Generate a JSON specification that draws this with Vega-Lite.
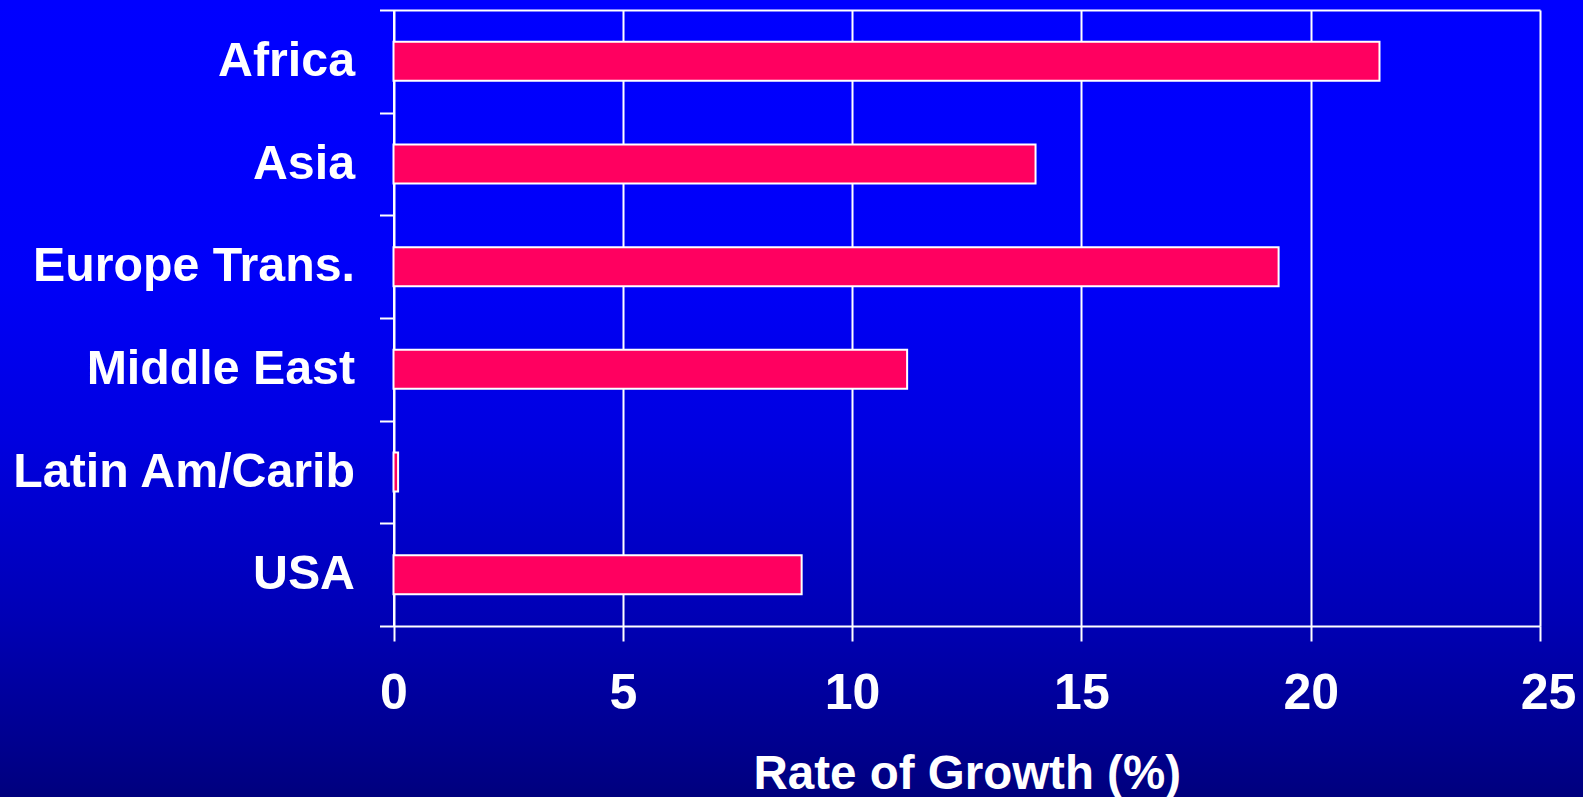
{
  "$schema": "https://vega.github.io/schema/vega-lite/v6.json",
  "width": 1583,
  "height": 797,
  "autosize": {"type": "none"},
  "padding": 0,
  "config": {
    "font": "Liberation Sans",
    "view": {
      "stroke": null,
      "fill": {
        "gradient": "linear",
        "x1": 0, "y1": 0, "x2": 0, "y2": 1,
        "stops": [
          {"offset": 0, "color": "#0000FF"},
          {"offset": 0.35, "color": "#0000F8"},
          {"offset": 0.55, "color": "#0000E0"},
          {"offset": 0.78, "color": "#0000B4"},
          {"offset": 1, "color": "#00007E"}
        ]
      }
    }
  },
  "data": {
    "values": [
      {"region": "Africa", "growth": 21.5},
      {"region": "Asia", "growth": 14.0},
      {"region": "Europe Trans.", "growth": 19.3},
      {"region": "Middle East", "growth": 11.2},
      {"region": "Latin Am/Carib", "growth": 0.1},
      {"region": "USA", "growth": 8.9}
    ]
  },
  "encoding": {
    "y": {
      "field": "region",
      "type": "nominal",
      "sort": null,
      "scale": {"range": [10, 626], "paddingInner": 0, "paddingOuter": 0},
      "axis": {
        "title": null,
        "orient": "left",
        "offset": -393.5,
        "domain": true,
        "domainColor": "white",
        "domainWidth": 2,
        "ticks": true,
        "tickBand": "extent",
        "tickColor": "white",
        "tickWidth": 2,
        "tickSize": 14,
        "grid": false,
        "labelColor": "white",
        "labelFont": "Liberation Sans",
        "labelFontSize": 48.3,
        "labelFontWeight": "bold",
        "labelPadding": 25,
        "labelLimit": 0
      }
    },
    "x": {
      "field": "growth",
      "type": "quantitative",
      "scale": {"domain": [0, 25], "range": [393.5, 1540], "nice": false, "zero": true}
    }
  },
  "layer": [
    {
      "mark": {"type": "bar", "opacity": 0, "height": {"band": 0.38}},
      "encoding": {
        "x": {
          "field": "growth",
          "type": "quantitative",
          "axis": {
            "orient": "top",
            "offset": -10,
            "values": [0, 5, 10, 15, 20, 25],
            "domain": true,
            "domainColor": "white",
            "domainWidth": 2,
            "ticks": false,
            "labels": false,
            "grid": true,
            "gridColor": "white",
            "gridWidth": 2,
            "gridOpacity": 1,
            "title": null
          }
        }
      }
    },
    {
      "mark": {
        "type": "bar",
        "fill": "#FF0060",
        "stroke": "white",
        "strokeWidth": 2,
        "height": {"band": 0.38}
      },
      "encoding": {
        "x": {
          "field": "growth",
          "type": "quantitative",
          "axis": {
            "orient": "bottom",
            "offset": -171,
            "values": [0, 5, 10, 15, 20, 25],
            "domain": true,
            "domainColor": "white",
            "domainWidth": 2,
            "ticks": true,
            "tickColor": "white",
            "tickWidth": 2,
            "tickSize": 15,
            "grid": false,
            "labelColor": "white",
            "labelFont": "Liberation Sans",
            "labelFontSize": 50,
            "labelFontWeight": "bold",
            "labelPadding": 27,
            "labelOffset": {"condition": {"test": "datum.value === 25", "value": 8}, "value": 0},
            "labelFlush": false,
            "labelOverlap": false,
            "title": "Rate of Growth (%)",
            "titleColor": "white",
            "titleFont": "Liberation Sans",
            "titleFontSize": 47.5,
            "titleFontWeight": "bold",
            "titleBaseline": "alphabetic",
            "titleY": 162
          }
        }
      }
    }
  ],
  "resolve": {"axis": {"x": "independent"}}
}
